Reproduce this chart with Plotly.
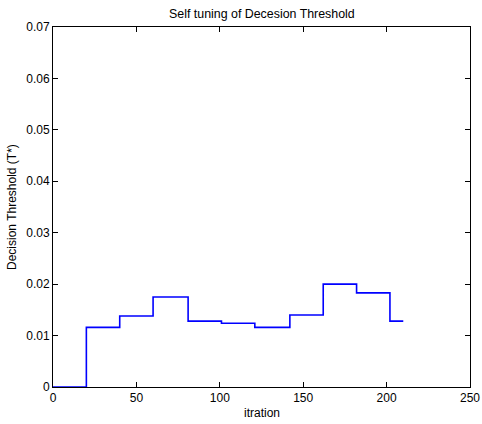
import plotly.graph_objects as go

# change points (iteration) and threshold level held from that point
step_x = [0, 20, 40, 60, 81, 101, 121, 142, 162, 182, 202, 210]
step_y = [0, 0.0116, 0.0138, 0.0175, 0.0128, 0.0124, 0.0116, 0.0140, 0.0200, 0.0183, 0.0128, 0.0128]

x_ticks = [0, 50, 100, 150, 200, 250]
x_labels = ["0", "50", "100", "150", "200", "250"]
y_ticks = [0, 0.01, 0.02, 0.03, 0.04, 0.05, 0.06, 0.07]
y_labels = ["0", "0.01", "0.02", "0.03", "0.04", "0.05", "0.06", "0.07"]

fig = go.Figure()
fig.add_trace(go.Scatter(x=step_x, y=step_y, mode="lines", line=dict(color="#0000ff", width=1.6, shape="hv"),
                         showlegend=False, hoverinfo="skip"))

font = dict(family="Liberation Sans, Arial, sans-serif", size=12, color="black")
axis_common = dict(showgrid=False, zeroline=False, showline=True, linecolor="black", linewidth=1,
                   mirror="ticks", ticks="inside", ticklen=5, tickcolor="black", tickwidth=1,
                   tickfont=font, automargin=False)
L, R, T, B = 53, 12, 27, 37
W, H = 482, 424
pw, ph = W - L - R, H - T - B
fig.update_layout(
    width=W, height=H,
    margin=dict(l=L, r=R, t=T, b=B),
    paper_bgcolor="white", plot_bgcolor="white",
    xaxis=dict(range=[0, 250], tickvals=x_ticks, ticktext=x_labels, **axis_common),
    yaxis=dict(range=[0, 0.07], tickvals=y_ticks, ticktext=y_labels, **axis_common),
)
fig.add_annotation(text="Self tuning of Decesion Threshold", xref="paper", yref="paper",
                   x=0.5, y=(H - B - 14) / ph, xanchor="center", yanchor="middle", showarrow=False,
                   font=dict(family="Liberation Sans, Arial, sans-serif", size=12.4, color="black"))
fig.add_annotation(text="itration", xref="paper", yref="paper",
                   x=0.5, y=(H - B - 413) / ph, xanchor="center", yanchor="middle", showarrow=False, font=font)
fig.add_annotation(text="Decision Threshold (T*)", xref="paper", yref="paper", textangle=-90,
                   x=(12 - L) / pw, y=(H - B - 207) / ph, xanchor="center", yanchor="middle",
                   showarrow=False, font=font)
fig.write_html("out.html", config={"displayModeBar": False},
               post_script="document.body.style.margin='0';document.body.style.overflow='hidden';")
